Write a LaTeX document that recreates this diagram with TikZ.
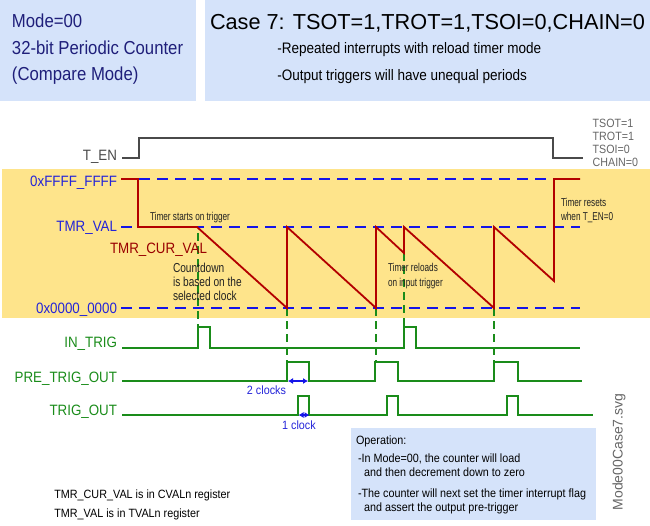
\documentclass[tikz,border=0pt]{standalone}
\usepackage{fontspec}
\setmainfont{Liberation Sans}
\newfontfamily\lblfont[FakeStretch=0.89]{Liberation Sans}
\newfontfamily\annfont[FakeStretch=0.72]{Liberation Sans}
\newfontfamily\cdfont[FakeStretch=0.78]{Liberation Sans}
\newfontfamily\notefont[FakeStretch=0.9]{Liberation Sans}
\usetikzlibrary{arrows.meta}
\definecolor{boxblue}{HTML}{D5E3FA}
\definecolor{navytext}{HTML}{1F1F7A}
\definecolor{band}{HTML}{FEE48B}
\definecolor{dashblue}{HTML}{1414E8}
\definecolor{lblblue}{HTML}{2323D9}
\definecolor{wred}{HTML}{B30000}
\definecolor{lred}{HTML}{990000}
\definecolor{wgreen}{HTML}{1A8C1A}
\definecolor{wgray}{HTML}{4A4A4A}
\definecolor{lgray}{HTML}{666666}
\definecolor{anntext}{HTML}{222222}
\tikzset{
  txt/.style={inner sep=0pt, outer sep=0pt},
  wlbl/.style={txt, anchor=base east, font=\lblfont\fontsize{15}{18}\selectfont},
  ann/.style={txt, anchor=base west, text=anntext, font=\annfont\fontsize{11.4}{13}\selectfont},
  cd/.style={txt, anchor=base west, text=anntext, font=\cdfont\fontsize{13}{15}\selectfont},
  note/.style={txt, anchor=base west, text=black, font=\notefont\fontsize{12}{14}\selectfont},
  tsot/.style={txt, anchor=base west, text=lgray, font=\lblfont\fontsize{12}{13}\selectfont},
  levelline/.style={dashblue, line width=2.4pt, dash pattern=on 11pt off 7pt},
  vmark/.style={wgreen, line width=1.4pt, dash pattern=on 8pt off 5pt},
  redwave/.style={wred, line width=1.8pt, line join=miter},
  greenwave/.style={wgreen, line width=2pt, line join=miter},
  clk/.style={dashblue, line width=1.4pt, {Latex[length=5pt,width=6pt]}-{Latex[length=5pt,width=6pt]}},
}
\begin{document}
\begin{tikzpicture}[x=1pt,y=-1pt]
\useasboundingbox (0,0) rectangle (650,525);
% header boxes
\fill[boxblue] (0,0) rectangle (196,101);
\fill[boxblue] (205,0) rectangle (650,101);
\node[txt, anchor=base west, text=navytext, font=\lblfont\fontsize{18.8}{22}\selectfont] (m1) at (12,27.7) {Mode=00};
\node[txt, anchor=base west, text=navytext, font=\lblfont\fontsize{18.8}{22}\selectfont] (m2) at (12,54) {32-bit Periodic Counter};
\node[txt, anchor=base west, text=navytext, font=\lblfont\fontsize{18.8}{22}\selectfont] (m3) at (12,80.3) {(Compare Mode)};
\node[txt, anchor=base west, text=black, font=\fontsize{21.7}{24}\selectfont] (title) at (210,29.5) {Case 7: TSOT=1,TROT=1,TSOI=0,CHAIN=0};
\node[txt, anchor=base west, text=black, font=\lblfont\fontsize{15.2}{17}\selectfont] (s1) at (277.3,53.3) {-Repeated interrupts with reload timer mode};
\node[txt, anchor=base west, text=black, font=\lblfont\fontsize{15.2}{17}\selectfont] (s2) at (277.3,80) {-Output triggers will have unequal periods};
% T_EN
\node[wlbl, text=wgray] (ten) at (117,160) {T\_EN};
\coordinate (tenA) at (122,158);
\coordinate (tenB) at (583,158);
\draw[wgray, line width=2pt] (tenA) -- (139,158) -- (139,138) -- (553,138) -- (553,158) -- (tenB);
\node[tsot] (c1) at (592.7,127.7) {TSOT=1};
\node[tsot] (c2) at (592.7,140.5) {TROT=1};
\node[tsot] (c3) at (592.7,153.2) {TSOI=0};
\node[tsot] (c4) at (592.7,166) {CHAIN=0};
% counter band
\fill[band] (2,169) rectangle (650,318);
\node[wlbl, text=lblblue] (lmax) at (117,186) {0xFFFF\_FFFF};
\node[wlbl, text=lblblue] (lval) at (117,231.5) {TMR\_VAL};
\node[wlbl, text=lblblue] (lzero) at (117,313) {0x0000\_0000};
\coordinate (maxE) at (580,179);
\coordinate (valE) at (580,227);
\coordinate (zeroE) at (580,308);
\draw[levelline] (121,179) -- (maxE);
\draw[levelline] (121,227) -- (valE);
\draw[levelline] (121,308) -- (zeroE);
% green markers
\draw[vmark] (198,233) -- (198,327);
\draw[vmark] (287,308) -- (287,362);
\draw[vmark] (376,308) -- (376,362);
\draw[vmark] (404,253) -- (404,327);
\draw[vmark] (494,308) -- (494,362);
% TMR_CUR_VAL waveform
\draw[redwave] (121,179) -- (138,179) -- (138,227) -- (197,227) -- (287,308) -- (287,227)
  -- (376,308) -- (376,227) -- (404,253) -- (404,227) -- (494,308) -- (494,227)
  -- (554,281) -- (554,179) -- (580,179);
\node[txt, anchor=base west, text=lred, font=\lblfont\fontsize{15}{18}\selectfont] (lcur) at (110,253) {TMR\_CUR\_VAL};
\node[ann] (a1) at (150,220.5) {Timer starts on trigger};
\node[cd] (cd1) at (173,272) {Countdown};
\node[cd] (cd2) at (173,286) {is based on the};
\node[cd] (cd3) at (173,300) {selected clock};
\node[ann] (r1) at (388,271.7) {Timer reloads};
\node[ann] (r2) at (388,286) {on input trigger};
\node[ann] (z1) at (561,206) {Timer resets};
\node[ann] (z2) at (561,220) {when T\_EN=0};
% triggers
\node[wlbl, text=wgreen] (lin) at (117,347) {IN\_TRIG};
\node[wlbl, text=wgreen] (lpre) at (117,382) {PRE\_TRIG\_OUT};
\node[wlbl, text=wgreen] (lout) at (117,415) {TRIG\_OUT};
\draw[greenwave] (122,348) -- (198,348) -- (198,327) -- (210,327) -- (210,348) -- (404,348)
  -- (404,327) -- (416,327) -- (416,348) -- (580,348);
\draw[greenwave] (122,381) -- (287,381) -- (287,362) -- (309,362) -- (309,381) -- (375,381)
  -- (375,362) -- (398,362) -- (398,381) -- (494,381) -- (494,362) -- (518,362) -- (518,381) -- (582,381);
\draw[greenwave] (122,415) -- (298,415) -- (298,396) -- (309,396) -- (309,415) -- (387,415)
  -- (387,396) -- (398,396) -- (398,415) -- (507,415) -- (507,396) -- (518,396) -- (518,415) -- (593,415);
\coordinate (k2a) at (288,381);
\coordinate (k2b) at (308,381);
\draw[clk] (k2a) -- (k2b);
\node[txt, anchor=base, text=lblblue, font=\notefont\fontsize{12}{14}\selectfont] (k2) at (266.5,394) {2 clocks};
\coordinate (k1a) at (298.5,415);
\coordinate (k1b) at (309.5,415);
\draw[clk] (k1a) -- (k1b);
\node[txt, anchor=base, text=lblblue, font=\notefont\fontsize{12}{14}\selectfont] (k1) at (299,429) {1 clock};
% operation box
\fill[boxblue] (351,428) rectangle (596,520);
\node[note] (o0) at (356,444) {Operation:};
\node[note] (o1) at (358,462.7) {-In Mode=00, the counter will load};
\node[note] (o2) at (364,476.7) {and then decrement down to zero};
\node[note] (o3) at (358,497.7) {-The counter will next set the timer interrupt flag};
\node[note] (o4) at (364,511.7) {and assert the output pre-trigger};
% bottom notes
\node[note] (b1) at (54.3,498.3) {TMR\_CUR\_VAL is in CVALn register};
\node[note] (b2) at (54.3,517) {TMR\_VAL is in TVALn register};
% file name
\node[txt, rotate=90, text=lgray, font=\fontsize{14}{16}\selectfont] (fname) at (619,452) {Mode00Case7.svg};
\end{tikzpicture}
\end{document}
